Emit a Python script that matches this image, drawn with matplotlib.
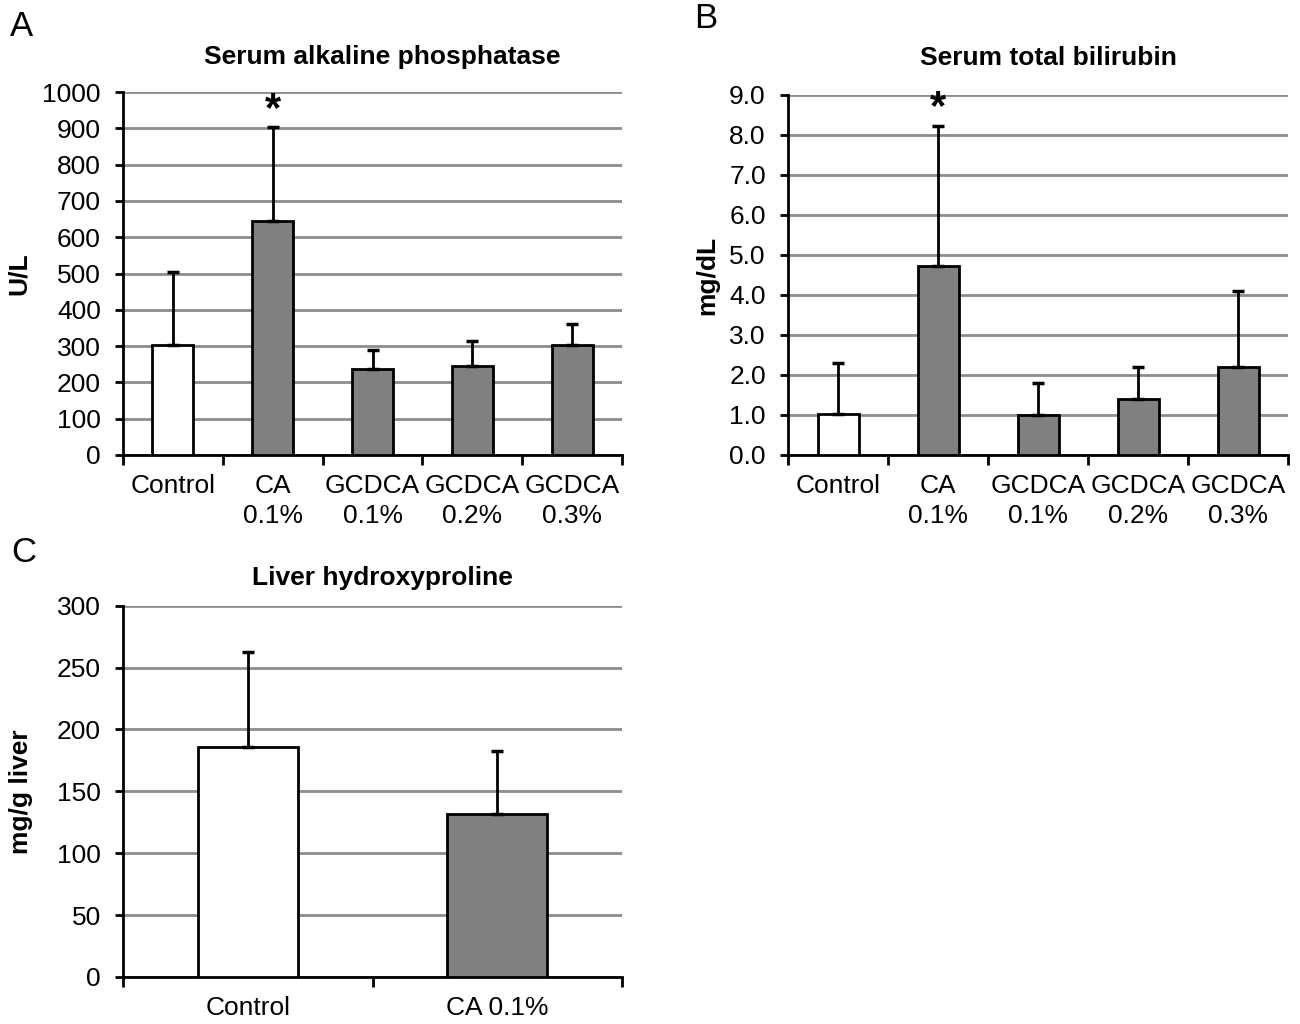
import matplotlib
matplotlib.use("Agg")
import matplotlib.pyplot as plt
import numpy as np

plt.rcParams['font.family'] = ['Liberation Sans', 'DejaVu Sans']

# Panel A
a_cats = ["Control", "CA\n0.1%", "GCDCA\n0.1%", "GCDCA\n0.2%", "GCDCA\n0.3%"]
a_vals = [302, 644, 238, 245, 304]
a_errs = [202, 259, 50, 68, 57]
# Panel B
b_cats = ["Control", "CA\n0.1%", "GCDCA\n0.1%", "GCDCA\n0.2%", "GCDCA\n0.3%"]
b_vals = [1.03, 4.72, 1.00, 1.39, 2.20]
b_errs = [1.26, 3.51, 0.81, 0.81, 1.89]
# Panel C
c_cats = ["Control", "CA 0.1%"]
c_vals = [186, 131.5]
c_errs = [76.5, 51.5]

fills_5 = ["white", "#808080", "#808080", "#808080", "#808080"]
fills_2 = ["white", "#808080"]

W, H = 1300, 1024
fig = plt.figure(figsize=(W / 100, H / 100), dpi=100)

def fx(px):
    return px / W

def fy(py):
    return 1 - py / H

def panel(rect, cats, vals, errs, fills, ymax, step, fmt, title, title_y, ylabel, ylabel_x,
          width, star=None):
    ax = fig.add_axes(rect)
    x = np.arange(len(cats))
    ax.set_axisbelow(True)
    ax.yaxis.grid(True, color="#8c8c8c", linewidth=2)
    ax.bar(x, vals, width=width, color=fills, edgecolor="black", linewidth=2, zorder=3)
    ax.errorbar(x, vals, yerr=[np.zeros(len(vals)), errs], fmt="none", ecolor="black",
                elinewidth=2, capsize=4.5, capthick=2.5, zorder=4)
    ax.set_xlim(-0.5, len(cats) - 0.5)
    ax.set_ylim(0, ymax)
    ticks = np.arange(0, ymax + step / 2, step)
    ax.set_yticks(ticks)
    ax.set_yticklabels([fmt.format(t) for t in ticks], fontsize=19)
    ax.set_xticks(np.arange(-0.5, len(cats), 1.0))
    ax.set_xticklabels([])
    ax.set_xticks(x, minor=True)
    ax.set_xticklabels(cats, minor=True, fontsize=19, linespacing=1.27)
    ax.tick_params(axis="x", which="minor", length=0, pad=14)
    ax.tick_params(axis="x", which="major", length=7, width=2, direction="out")
    ax.tick_params(axis="y", length=6, width=2, direction="out", pad=10)
    for s in ["top", "right"]:
        ax.spines[s].set_visible(False)
    for s in ["left", "bottom"]:
        ax.spines[s].set_linewidth(2)
    left_px = rect[0] * W
    right_px = (rect[0] + rect[2]) * W
    top_px = (1 - rect[1] - rect[3]) * H
    bot_px = (1 - rect[1]) * H
    fig.text(fx((left_px + right_px) / 2 + 10), fy(title_y), title, fontsize=19,
             fontweight="bold", ha="center", va="center")
    fig.text(fx(ylabel_x), fy((top_px + bot_px) / 2), ylabel, fontsize=19,
             fontweight="bold", rotation=90, ha="center", va="center")
    if star is not None:
        ax.annotate("*", xy=(star, vals[star] + errs[star]), xytext=(0, -2),
                    textcoords="offset points", ha="center", va="bottom",
                    fontsize=30, fontweight="bold")
    return ax

panel([fx(123), fy(455), fx(622) - fx(123), fy(92) - fy(455)], a_cats, a_vals, a_errs,
      fills_5, 1000, 100, "{:.0f}", "Serum alkaline phosphatase", 57, "U/L", 19, 0.41, star=1)
panel([fx(788), fy(455), fx(1288) - fx(788), fy(95) - fy(455)], b_cats, b_vals, b_errs,
      fills_5, 9.0, 1.0, "{:.1f}", "Serum total bilirubin", 58, "mg/dL", 707, 0.41, star=1)
panel([fx(123), fy(977), fx(622) - fx(123), fy(605.7) - fy(977)], c_cats, c_vals, c_errs,
      fills_2, 300, 50, "{:.0f}", "Liver hydroxyproline", 578, "mg/g liver", 21, 0.40)

fig.text(fx(22), fy(27), "A", fontsize=25, ha="center", va="center")
fig.text(fx(706), fy(18), "B", fontsize=25, ha="center", va="center")
fig.text(fx(24), fy(553), "C", fontsize=25, ha="center", va="center")

fig.savefig("out.png", dpi=100)
